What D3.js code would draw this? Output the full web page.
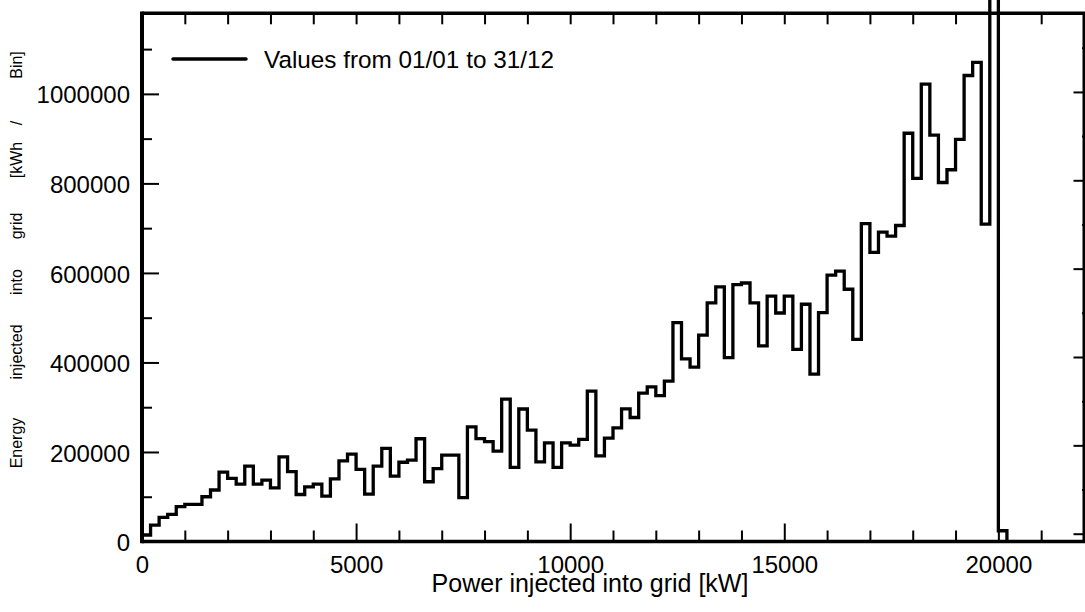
<!DOCTYPE html>
<html>
<head>
<meta charset="utf-8">
<script src="https://cdn.jsdelivr.net/npm/d3@7"></script>
<style>
  html, body { margin: 0; padding: 0; background: #fff; }
  svg { display: block; }
  text { font-family: "Liberation Sans", Arial, Helvetica, sans-serif; fill: #000; }
</style>
</head>
<body>
<svg id="chart" width="1085" height="612"></svg>
<script>
// ---------- data ----------
const binStarts = [
  0, 200, 400, 600, 800, 1000, 1200, 1400, 1600, 1800,
  2000, 2200, 2400, 2600, 2800, 3000, 3200, 3400, 3600, 3800,
  4000, 4200, 4400, 4600, 4800, 5000, 5200, 5400, 5600, 5800,
  6000, 6200, 6400, 6600, 6800, 7000, 7200, 7400, 7600, 7800,
  8000, 8200, 8400, 8600, 8800, 9000, 9200, 9400, 9600, 9800,
  10000, 10200, 10400, 10600, 10800, 11000, 11200, 11400, 11600, 11800,
  12000, 12200, 12400, 12600, 12800, 13000, 13200, 13400, 13600, 13800,
  14000, 14200, 14400, 14600, 14800, 15000, 15200, 15400, 15600, 15800,
  16000, 16200, 16400, 16600, 16800, 17000, 17200, 17400, 17600, 17800,
  18000, 18200, 18400, 18600, 18800, 19000, 19200, 19400, 19600, 19800,
  20000
];
const binEnd = 20200;
const energyValues = [
  14500, 36800, 54000, 60700, 77700, 83000, 83000, 100000, 115000, 155000,
  141000, 128000, 168500, 128000, 137000, 120000, 189000, 156000, 105000, 122000,
  128000, 101500, 140000, 180000, 195000, 161000, 106000, 168500, 208000, 146000,
  177000, 182000, 229500, 133500, 163000, 193000, 193000, 98000, 256000, 230000,
  223000, 202000, 318000, 165500, 296000, 249000, 178000, 220500, 165500, 220500,
  215500, 228000, 336000, 191500, 231000, 254000, 296500, 277000, 331500, 345500,
  326000, 358500, 489000, 408000, 389500, 461000, 533000, 569000, 411000, 574000,
  577500, 533000, 437000, 548000, 510500, 548000, 429000, 530000, 374000, 511500,
  595000, 604000, 563500, 451500, 710000, 646000, 691000, 682000, 706000, 912000,
  811000, 1022000, 908000, 802000, 830500, 898500, 1041000, 1070500, 709000, 1500000,
  24000
];
const xMajorTicks = [0, 5000, 10000, 15000, 20000];
const xMinorTicks = [1000, 2000, 3000, 4000, 6000, 7000, 8000, 9000, 11000, 12000, 13000, 14000, 16000, 17000, 18000, 19000, 21000, 22000];
const xAllTicks = [0, 1000, 2000, 3000, 4000, 5000, 6000, 7000, 8000, 9000, 10000, 11000, 12000, 13000, 14000, 15000, 16000, 17000, 18000, 19000, 20000, 21000, 22000];
const yMajorTicks = [0, 200000, 400000, 600000, 800000, 1000000];
const yMinorTicks = [100000, 300000, 500000, 700000, 900000, 1100000];
const rightMajorTicks = [0, 1, 2, 3, 4, 5];
const rightMinorTicks = [0.5, 1.5, 2.5, 3.5, 4.5, 5.5];
const xTitle = "Power injected into grid [kW]";
const yTitleWords = ["Energy", "injected", "into", "grid", "[kWh", "/", "Bin]"];
const yTitleWordPos = [443, 352, 282, 226, 160, 123, 65];
const legendLabel = "Values from 01/01 to 31/12";

// ---------- layout ----------
const L = 142, R = 1084, T = 13.3, B = 541.5;
const svg = d3.select("#chart");
svg.append("rect").attr("width", 1085).attr("height", 612).attr("fill", "#fff");

const x = d3.scaleLinear().domain([0, 22000]).range([L, R]);
const y = d3.scaleLinear().domain([0, 1180000]).range([B, T]);
const yRight = d3.scaleLinear().domain([-0.0882, 5.89]).range([B, T]);

function clean(g) {
  g.select(".domain").remove();
  g.selectAll(".tick line").attr("stroke", "#000").attr("stroke-width", 2);
  g.selectAll("text").attr("font-size", 24).attr("fill", "#000");
}

// bottom axis (major with labels)
svg.append("g").attr("transform", `translate(0,${B})`)
  .call(d3.axisBottom(x).tickValues(xMajorTicks).tickFormat(d3.format("d"))
    .tickSizeInner(-18).tickSizeOuter(0).tickPadding(14))
  .call(clean);
svg.append("g").attr("transform", `translate(0,${B})`)
  .call(d3.axisBottom(x).tickValues(xMinorTicks).tickFormat("")
    .tickSizeInner(-11).tickSizeOuter(0))
  .call(clean);
// top axis
svg.append("g").attr("transform", `translate(0,${T})`)
  .call(d3.axisTop(x).tickValues(xAllTicks).tickFormat("")
    .tickSizeInner(-11).tickSizeOuter(0))
  .call(clean);
// left axis
svg.append("g").attr("transform", `translate(${L},0)`)
  .call(d3.axisLeft(y).tickValues(yMajorTicks).tickFormat(d3.format("d"))
    .tickSizeInner(-17).tickSizeOuter(0).tickPadding(12))
  .call(clean)
  .call(g => g.selectAll("text").attr("dy", "0.38em"));
svg.append("g").attr("transform", `translate(${L},0)`)
  .call(d3.axisLeft(y).tickValues(yMinorTicks).tickFormat("")
    .tickSizeInner(-10).tickSizeOuter(0))
  .call(clean);
// right axis (no visible labels)
svg.append("g").attr("transform", `translate(${R},0)`)
  .call(d3.axisRight(yRight).tickValues(rightMajorTicks).tickFormat("")
    .tickSizeInner(-10.5).tickSizeOuter(0))
  .call(clean);
svg.append("g").attr("transform", `translate(${R},0)`)
  .call(d3.axisRight(yRight).tickValues(rightMinorTicks).tickFormat("")
    .tickSizeInner(-2).tickSizeOuter(0))
  .call(clean);

// frame
const frame = svg.append("g").attr("stroke", "#000").attr("fill", "none");
frame.append("line").attr("x1", L).attr("x2", L).attr("y1", T - 1.75).attr("y2", B + 1.75).attr("stroke-width", 4);
frame.append("line").attr("x1", L).attr("x2", R + 2).attr("y1", B).attr("y2", B).attr("stroke-width", 3.5);
frame.append("line").attr("x1", L).attr("x2", R + 2).attr("y1", T).attr("y2", T).attr("stroke-width", 3.5);
frame.append("line").attr("x1", R).attr("x2", R).attr("y1", T).attr("y2", B).attr("stroke-width", 3);

// step histogram
const pts = [[binStarts[0], 0]];
binStarts.forEach((b, i) => pts.push([b, energyValues[i]]));
pts.push([binEnd, 0]);
const stepLine = d3.line().x(d => x(d[0])).y(d => y(d[1])).curve(d3.curveStepAfter);
svg.append("path").attr("d", stepLine(pts))
  .attr("fill", "none").attr("stroke", "#000").attr("stroke-width", 3.3)
  .attr("stroke-linejoin", "miter");

// titles
svg.append("text").attr("x", 590).attr("y", 592).attr("text-anchor", "middle")
  .attr("font-size", 25).text(xTitle);
const yt = svg.append("g");
yTitleWords.forEach((w, i) => {
  yt.append("text")
    .attr("transform", `translate(22,${yTitleWordPos[i]}) rotate(-90)`)
    .attr("text-anchor", "middle").attr("font-size", 16).text(w);
});

// legend
svg.append("line").attr("x1", 173).attr("x2", 246).attr("y1", 59).attr("y2", 59)
  .attr("stroke", "#000").attr("stroke-width", 3.5).attr("stroke-linecap", "round");
svg.append("text").attr("x", 264).attr("y", 59).attr("dy", "0.36em")
  .attr("font-size", 24.3).text(legendLabel);
</script>
</body>
</html>
